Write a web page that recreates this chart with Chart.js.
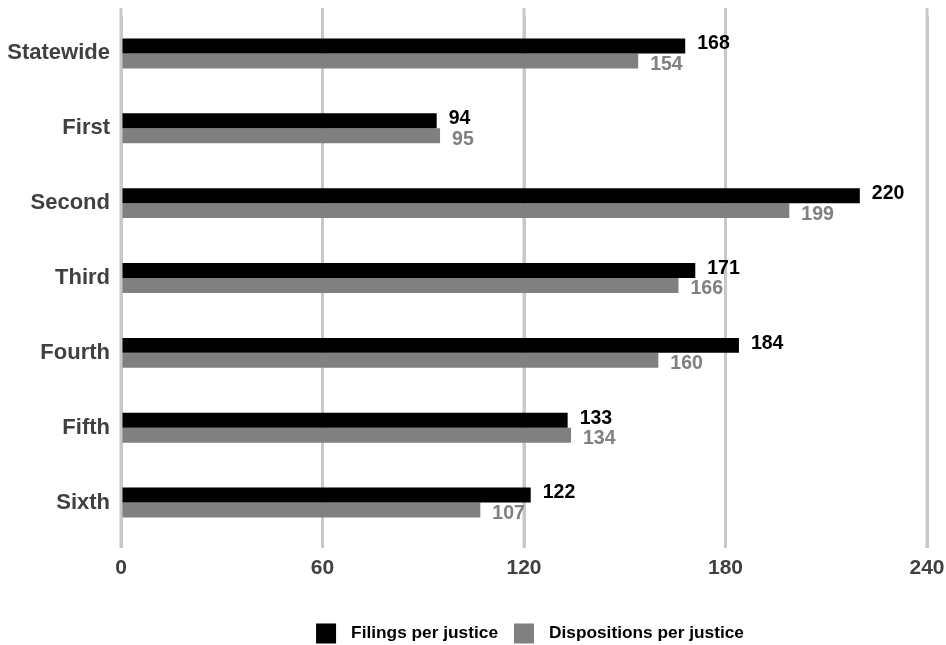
<!DOCTYPE html>
<html>
<head>
<meta charset="utf-8">
<script src="https://cdn.jsdelivr.net/npm/chart.js@4.4.1/dist/chart.umd.min.js"></script>
<style>
  html, body { margin: 0; padding: 0; background: #ffffff; }
  #wrap { width: 946px; height: 645px; position: relative; }
</style>
</head>
<body>
<div id="wrap"><canvas id="c"></canvas></div>
<script>
const categories = ['Statewide', 'First', 'Second', 'Third', 'Fourth', 'Fifth', 'Sixth'];
const filings = [168, 94, 220, 171, 184, 133, 122];
const dispositions = [154, 95, 199, 166, 160, 134, 107];
const seriesNames = ['Filings per justice', 'Dispositions per justice'];
const seriesColors = ['#000000', '#808080'];
const xTicks = [0, 60, 120, 180, 240];

const FONT = "'Liberation Sans', Arial, sans-serif";

const valueLabels = {
  id: 'valueLabels',
  afterDatasetsDraw(chart) {
    const ctx = chart.ctx;
    ctx.save();
    ctx.font = 'bold 19.5px ' + FONT;
    ctx.textAlign = 'left';
    ctx.textBaseline = 'middle';
    chart.data.datasets.forEach((ds, di) => {
      const meta = chart.getDatasetMeta(di);
      meta.data.forEach((bar, i) => {
        ctx.fillStyle = seriesColors[di];
        const dy = di === 0 ? -2 : 3.5;
        ctx.fillText(String(ds.data[i]), bar.x + 12, bar.y + dy);
      });
    });
    ctx.restore();
  }
};

const gridExtend = {
  id: 'gridExtend',
  beforeDatasetsDraw(chart) {
    const ctx = chart.ctx;
    const xs = chart.scales.x;
    const { top, bottom } = chart.chartArea;
    ctx.save();
    ctx.strokeStyle = '#c8c8c8';
    ctx.lineWidth = 3;
    xTicks.forEach(v => {
      const px = xs.getPixelForValue(v);
      ctx.beginPath();
      ctx.moveTo(px, top - 8);
      ctx.lineTo(px, bottom + 8);
      ctx.stroke();
    });
    ctx.restore();
  }
};

const bottomLegend = {
  id: 'bottomLegend',
  afterDraw(chart) {
    const ctx = chart.ctx;
    ctx.save();
    ctx.font = 'bold 17.3px ' + FONT;
    ctx.textBaseline = 'middle';
    ctx.textAlign = 'left';
    const box = 20, gap = 15, itemGap = 16;
    const items = chart.data.datasets.map(ds => ({ label: ds.label, color: ds.backgroundColor, w: ctx.measureText(ds.label).width }));
    let total = 0;
    items.forEach((it, i) => { total += box + gap + it.w + (i ? itemGap : 0); });
    const cx = 530;
    let x = cx - total / 2;
    const cy = 633.5;
    items.forEach((it, i) => {
      if (i) x += itemGap;
      ctx.fillStyle = it.color;
      ctx.fillRect(x, cy - box / 2, box, box);
      ctx.fillStyle = '#000000';
      ctx.fillText(it.label, x + box + gap, cy);
      x += box + gap + it.w;
    });
    ctx.restore();
  }
};

new Chart(document.getElementById('c'), {
  type: 'bar',
  data: {
    labels: categories,
    datasets: [
      { label: seriesNames[0], data: filings, backgroundColor: seriesColors[0], borderWidth: 0,
        categoryPercentage: 0.4, barPercentage: 1.0 },
      { label: seriesNames[1], data: dispositions, backgroundColor: seriesColors[1], borderWidth: 0,
        categoryPercentage: 0.4, barPercentage: 1.0 }
    ]
  },
  options: {
    indexAxis: 'y',
    responsive: true,
    maintainAspectRatio: false,
    animation: false,
    layout: { padding: { left: 0, right: 19, top: 16, bottom: 0 } },
    scales: {
      x: {
        min: 0, max: 240,
        afterBuildTicks: (scale) => { scale.ticks = xTicks.map(v => ({ value: v })); },
        grid: { color: '#c8c8c8', lineWidth: 3, drawTicks: true, tickLength: 8, tickColor: '#c8c8c8' },
        border: { display: false },
        ticks: { color: '#404040', font: { family: FONT, size: 21, weight: 'bold' }, padding: 8, maxRotation: 0 },
        afterFit: (scale) => { scale.height = 105; scale.paddingLeft = 0; scale.paddingRight = 0; }
      },
      y: {
        grid: { display: false, drawTicks: false },
        border: { display: false },
        ticks: { color: '#404040', font: { family: FONT, size: 22, weight: 'bold' }, padding: 11 },
        afterFit: (scale) => { scale.width = 121; scale.paddingTop = 0; scale.paddingBottom = 0; }
      }
    },
    plugins: {
      legend: { display: false },
      tooltip: { enabled: false }
    }
  },
  plugins: [valueLabels, gridExtend, bottomLegend]
});
</script>
</body>
</html>
